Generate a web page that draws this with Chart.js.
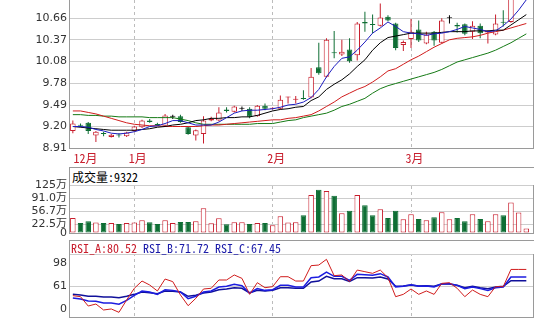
<!DOCTYPE html>
<html>
<head>
<meta charset="utf-8">
<script src="https://cdn.jsdelivr.net/npm/chart.js@4.4.1/dist/chart.umd.min.js"></script>
<style>
  html, body { margin: 0; padding: 0; background: #fff; }
  #wrap { position: relative; width: 545px; height: 330px; overflow: hidden; }
  #wrap canvas { position: absolute; left: 0; }
  .head { position: absolute; left: 70px; width: 463px; background: #fff; white-space: nowrap;
          font-family: 'Noto Sans Mono CJK SC', 'DejaVu Sans Mono', monospace; font-size: 12px; }
</style>
</head>
<body>
<div id="wrap">
  <canvas id="kline" width="545" height="166" style="top:0"></canvas>
  <canvas id="volume" width="545" height="72" style="top:166px"></canvas>
  <canvas id="rsi" width="545" height="92" style="top:238px"></canvas>
  <div class="head" style="top:168px;height:17px;line-height:17px;padding-left:2px;color:#000">成交量:9322</div>
  <div class="head" style="top:241px;height:13px;line-height:13px;padding-left:1px">
    <span style="color:#c81e2d">RSI_A:80.52</span> <span style="color:#1a1aa8">RSI_B:71.72</span> <span style="color:#1a1aa8">RSI_C:67.45</span>
  </div>
</div>
<script>
// daily candles, one entry per trading day (Dec -> Mar)
const opens  = [9.14, 9.22, 9.25, 9.08, 9.11, 9.06, 9.09, 9.07, 9.14, 9.19,
                9.28, 9.23, 9.21, 9.33, 9.34, 9.19, 9.08, 9.10, 9.28, 9.28,
                9.43, 9.40, 9.44, 9.44, 9.34, 9.48, 9.44, 9.44, 9.59, 9.56,
                9.58, 9.59, 10.00, 9.87, 10.20, 10.17, 10.24, 10.16, 10.61, 10.58,
                10.56, 10.68, 10.59, 10.30, 10.38, 10.51, 10.32, 10.48, 10.33, 10.66,
                10.57, 10.58, 10.48, 10.56, 10.47, 10.44, 10.61, 10.61, 10.97, 10.99];
const highs  = [9.28, 9.24, 9.26, 9.14, 9.13, 9.10, 9.11, 9.13, 9.21, 9.29,
                9.30, 9.25, 9.37, 9.36, 9.36, 9.20, 9.16, 9.34, 9.33, 9.46,
                9.46, 9.48, 9.47, 9.46, 9.49, 9.51, 9.46, 9.62, 9.60, 9.61,
                9.69, 9.99, 10.33, 10.39, 10.49, 10.37, 10.39, 10.61, 10.75, 10.71,
                10.86, 10.70, 10.60, 10.36, 10.65, 10.63, 10.48, 10.49, 10.66, 10.70,
                10.60, 10.59, 10.62, 10.59, 10.50, 10.71, 10.77, 11.00, 11.05, 11.02];
const lows   = [9.11, 9.19, 9.10, 8.99, 9.07, 9.05, 9.05, 9.06, 9.13, 9.18,
                9.25, 9.21, 9.20, 9.30, 9.25, 9.09, 9.01, 8.97, 9.27, 9.27,
                9.39, 9.39, 9.41, 9.31, 9.33, 9.42, 9.43, 9.43, 9.51, 9.51,
                9.56, 9.58, 9.90, 9.86, 10.12, 10.15, 10.06, 10.09, 10.48, 10.46,
                10.55, 10.62, 10.23, 10.22, 10.26, 10.34, 10.31, 10.29, 10.32, 10.59,
                10.47, 10.43, 10.38, 10.39, 10.32, 10.43, 10.55, 10.60, 10.95, 10.97];
const closes = [9.24, 9.21, 9.14, 9.13, 9.10, 9.09, 9.08, 9.12, 9.20, 9.28,
                9.26, 9.22, 9.35, 9.33, 9.26, 9.10, 9.15, 9.28, 9.30, 9.39,
                9.41, 9.47, 9.44, 9.33, 9.48, 9.44, 9.45, 9.56, 9.60, 9.57,
                9.57, 9.87, 9.92, 10.37, 10.19, 10.21, 10.08, 10.59, 10.59, 10.57,
                10.67, 10.63, 10.26, 10.34, 10.48, 10.36, 10.44, 10.36, 10.63, 10.66,
                10.55, 10.45, 10.56, 10.46, 10.49, 10.59, 10.60, 10.98, 11.00, 11.00];

// moving averages as drawn on the chart
const ma5  = [9.20, 9.20, 9.19, 9.16, 9.14, 9.11, 9.10, 9.11, 9.13, 9.16,
              9.20, 9.21, 9.24, 9.28, 9.28, 9.25, 9.22, 9.22, 9.22, 9.26,
              9.32, 9.38, 9.41, 9.42, 9.42, 9.43, 9.44, 9.46, 9.49, 9.50,
              9.53, 9.59, 9.70, 9.87, 10.01, 10.12, 10.14, 10.23, 10.34, 10.46,
              10.53, 10.61, 10.55, 10.48, 10.46, 10.45, 10.43, 10.45, 10.46, 10.48,
              10.51, 10.55, 10.53, 10.51, 10.48, 10.49, 10.56, 10.65, 10.77, 10.91];
const ma10 = [9.20, 9.19, 9.18, 9.17, 9.16, 9.15, 9.15, 9.15, 9.15, 9.16,
              9.17, 9.19, 9.20, 9.22, 9.23, 9.25, 9.28, 9.29, 9.31, 9.31,
              9.32, 9.32, 9.33, 9.33, 9.35, 9.38, 9.41, 9.43, 9.44, 9.46,
              9.47, 9.55, 9.60, 9.70, 9.77, 9.83, 9.91, 10.01, 10.10, 10.23,
              10.33, 10.40, 10.42, 10.44, 10.46, 10.46, 10.46, 10.46, 10.47, 10.48,
              10.48, 10.48, 10.49, 10.49, 10.49, 10.50, 10.50, 10.57, 10.64, 10.71];
const ma20 = [9.41, 9.41, 9.39, 9.37, 9.34, 9.31, 9.28, 9.25, 9.23, 9.22,
              9.21, 9.21, 9.20, 9.20, 9.20, 9.20, 9.20, 9.21, 9.22, 9.22,
              9.23, 9.24, 9.25, 9.26, 9.27, 9.28, 9.29, 9.29, 9.31, 9.32,
              9.34, 9.36, 9.41, 9.47, 9.53, 9.60, 9.65, 9.70, 9.74, 9.80,
              9.87, 9.95, 9.98, 10.04, 10.10, 10.15, 10.21, 10.27, 10.32, 10.37,
              10.39, 10.40, 10.41, 10.43, 10.46, 10.48, 10.50, 10.53, 10.56, 10.59];
const ma30 = [9.36, 9.36, 9.35, 9.35, 9.34, 9.34, 9.33, 9.33, 9.33, 9.33,
              9.32, 9.32, 9.32, 9.32, 9.30, 9.28, 9.25, 9.23, 9.23, 9.23,
              9.23, 9.23, 9.23, 9.23, 9.24, 9.24, 9.24, 9.26, 9.28, 9.29,
              9.32, 9.34, 9.36, 9.38, 9.42, 9.47, 9.50, 9.54, 9.58, 9.65,
              9.71, 9.75, 9.78, 9.81, 9.84, 9.87, 9.90, 9.93, 9.97, 10.02,
              10.07, 10.10, 10.13, 10.16, 10.19, 10.23, 10.28, 10.33, 10.39, 10.45];

// volume, in 万 shares
const volume = [39.3, 26.2, 30.6, 27.1, 26.2, 26.2, 23.6, 26.2, 27.1, 33.2,
                28.0, 23.6, 33.2, 26.2, 28.8, 28.8, 30.6, 64.7, 25.3, 38.5,
                22.7, 28.0, 28.0, 23.6, 26.2, 26.2, 20.1, 43.7, 27.1, 28.0,
                46.3, 98.8, 112.8, 109.3, 97.0, 51.6, 57.7, 98.8, 72.6, 46.3,
                62.1, 39.3, 57.7, 35.8, 49.0, 36.7, 33.2, 41.1, 54.2, 35.8,
                39.3, 30.6, 49.0, 36.7, 30.6, 49.0, 46.3, 79.5, 53.3, 11.4];

// RSI lines
const rsiA = [50.2, 49.0, 38.2, 40.5, 33.6, 34.8, 30.9, 45.2, 58.7, 67.1,
              62.5, 55.6, 69.4, 66.4, 51.0, 38.6, 47.1, 57.9, 58.7, 68.3,
              68.3, 74.1, 70.2, 51.7, 65.2, 59.4, 60.6, 72.1, 72.1, 67.1,
              67.1, 84.9, 85.6, 92.2, 73.3, 74.1, 66.4, 79.8, 77.9, 76.0,
              79.8, 71.0, 49.0, 51.7, 57.9, 51.7, 55.6, 51.7, 64.4, 65.2,
              58.7, 49.0, 56.7, 51.7, 49.0, 60.6, 60.6, 80.52, 80.52, 80.52];
const rsiB = [47.5, 46.3, 44.0, 43.6, 41.7, 41.7, 40.2, 44.8, 50.6, 55.6,
              54.4, 51.7, 57.1, 56.3, 54.4, 46.7, 49.4, 54.4, 55.6, 60.2,
              61.0, 63.3, 61.7, 53.3, 58.3, 56.3, 57.1, 62.1, 62.1, 60.2,
              60.2, 71.0, 71.8, 77.5, 72.5, 72.5, 67.9, 74.8, 74.5, 73.7,
              75.6, 71.8, 60.2, 61.0, 62.9, 61.0, 61.4, 60.2, 64.0, 64.0,
              62.1, 58.3, 60.2, 58.3, 56.3, 59.4, 60.2, 71.72, 71.72, 71.72];
const rsiC = [51.7, 50.9, 49.4, 49.4, 48.6, 48.6, 47.9, 49.4, 51.7, 54.4,
              53.6, 52.5, 55.6, 55.2, 54.4, 49.4, 50.6, 53.3, 54.4, 57.1,
              57.9, 59.4, 58.7, 53.3, 56.3, 55.6, 56.3, 59.4, 59.4, 58.7,
              58.7, 66.0, 67.1, 72.5, 69.8, 69.8, 66.7, 71.0, 71.0, 70.6,
              71.8, 69.4, 61.0, 61.4, 62.5, 61.4, 61.7, 61.0, 63.7, 63.7,
              62.1, 59.4, 61.0, 59.4, 58.3, 60.2, 61.0, 67.45, 67.45, 67.45];

// axis labels
const monthNames = ['12月', '1月', '2月', '3月'];
const monthStart = [0, 8, 26, 44];
const priceTicks = [8.91, 9.20, 9.49, 9.78, 10.08, 10.37, 10.66];
const volTicks = [0, 22.5, 56.7, 91.0, 125];
const volTickLabels = ['0', '22.5万', '56.7万', '91.0万', '125万'];
const rsiGrid = [98, 61];
const rsiTickLabels = ['98', '61', '0'];
// the source software pins its top/bottom RSI labels inside the panel
const rsiLabelAt = [87.9, 61, 35.1];

const RED = '#c81e2d', GREEN = '#0e6e34', GRID = '#cdcdcd', FRAME = '#9a9a9a', DASH = '#bcbcbc';
const TICK_FONT = { family: "'DejaVu Sans', 'Noto Sans CJK SC', sans-serif", size: 11 };

const candleColor = closes.map((c, i) => c > opens[i] ? RED : (c < opens[i] ? GREEN : '#000'));
const bodyFill = closes.map((c, i) => c > opens[i] ? '#fff' : (c < opens[i] ? GREEN : '#000'));
const volColor = closes.map((c, i) => c >= opens[i] ? RED : GREEN);
const volFill = closes.map((c, i) => c >= opens[i] ? '#fff' : GREEN);

const pts = arr => arr.map((v, i) => ({ x: i, y: v }));

// frame round each panel, drawn just outside the plot area
const framePlugin = {
    id: 'frame',
    afterDraw(chart) {
        const { ctx, chartArea: a } = chart;
        ctx.save();
        ctx.strokeStyle = FRAME;
        ctx.lineWidth = 1;
        ctx.strokeRect(a.left - 0.5, a.top - 0.5, a.right - a.left + 1, a.bottom - a.top + 1);
        ctx.restore();
    }
};

// shared day axis with dashed month lines
function dayAxis(height, showLabels) {
    return {
        type: 'linear',
        min: -0.37,
        max: 59.87,
        offset: false,
        afterBuildTicks: s => { s.ticks = monthStart.map(v => ({ value: Math.max(v, 1.2) })); },
        afterFit: s => { s.height = height; s.paddingLeft = 0; s.paddingRight = 0; },
        grid: { color: c => c.index === 0 ? 'rgba(0,0,0,0)' : DASH, drawTicks: false, offset: false },
        border: { display: false, dash: [3, 3] },
        ticks: {
            display: showLabels,
            autoSkip: false,
            maxRotation: 0,
            padding: 3,
            labelOffset: 3.5,
            color: RED,
            font: { family: "'Noto Sans Mono CJK SC', 'DejaVu Sans', sans-serif", size: 12 },
            callback: (v, i) => monthNames[i]
        }
    };
}

function baseOptions(padTop, scales) {
    return {
        responsive: false,
        animation: false,
        events: [],
        layout: { padding: { left: 0, right: 12, top: padTop, bottom: 0 } },
        plugins: { legend: { display: false }, tooltip: { enabled: false } },
        scales: scales
    };
}

const line = (data, color, width) => ({
    type: 'line', data: pts(data), borderColor: color, borderWidth: width,
    pointRadius: 0, fill: false, order: 0
});

// price panel
new Chart(document.getElementById('kline'), {
    type: 'bar',
    data: {
        datasets: [
            line(ma5, '#1c1cc0', 1),
            line(ma10, '#000000', 1),
            line(ma20, '#d01c1c', 1),
            line(ma30, '#157a15', 1),
            {
                type: 'bar', order: 1,
                data: closes.map((c, i) => ({ x: i, y: [opens[i], c] })),
                backgroundColor: bodyFill, borderColor: candleColor, borderWidth: 1,
                borderSkipped: false, grouped: false, maxBarThickness: 6, minBarLength: 1
            },
            {
                type: 'bar', order: 2,
                data: highs.map((h, i) => ({ x: i, y: [lows[i], h] })),
                backgroundColor: candleColor, borderWidth: 0,
                grouped: false, maxBarThickness: 1
            }
        ]
    },
    options: baseOptions(0, {
        x: dayAxis(18, true),
        y: {
            min: 8.91,
            max: 10.907,
            afterBuildTicks: s => { s.ticks = priceTicks.map(v => ({ value: v })); },
            afterFit: s => { s.width = 70; s.paddingTop = 0; s.paddingBottom = 0; },
            grid: { color: GRID, drawTicks: false },
            border: { display: false },
            ticks: { autoSkip: false, padding: 3, color: '#333', font: TICK_FONT, callback: v => v.toFixed(2) }
        }
    }),
    plugins: [framePlugin]
});

// volume panel
new Chart(document.getElementById('volume'), {
    type: 'bar',
    data: {
        datasets: [{
            data: pts(volume),
            backgroundColor: volFill, borderColor: volColor, borderWidth: 1,
            borderSkipped: false, grouped: false, maxBarThickness: 6
        }]
    },
    options: baseOptions(2, {
        x: dayAxis(5, false),
        y: {
            min: 0,
            max: 169.3,
            afterBuildTicks: s => { s.ticks = volTicks.map(v => ({ value: v })); },
            afterFit: s => { s.width = 70; s.paddingTop = 0; s.paddingBottom = 0; },
            grid: { color: GRID, drawTicks: false },
            border: { display: false },
            ticks: { autoSkip: false, padding: 3, color: '#333', font: TICK_FONT, callback: (v, i) => volTickLabels[i] }
        }
    }),
    plugins: [framePlugin]
});

// RSI panel
new Chart(document.getElementById('rsi'), {
    type: 'line',
    data: {
        datasets: [
            line(rsiA, '#d01c1c', 1),
            line(rsiB, '#1c1ce0', 1.5),
            line(rsiC, '#10109a', 1.5)
        ]
    },
    options: baseOptions(3, {
        x: dayAxis(13, false),
        y: {
            min: 25.5,
            max: 113.4,
            afterBuildTicks: s => { s.ticks = [rsiGrid[0]].concat(rsiLabelAt).map(v => ({ value: v })); },
            afterFit: s => { s.width = 70; s.paddingTop = 0; s.paddingBottom = 0; },
            grid: { color: c => (c.tick && rsiGrid.includes(c.tick.value)) ? GRID : 'rgba(0,0,0,0)', drawTicks: false },
            border: { display: false },
            ticks: { autoSkip: false, padding: 3, color: '#333', font: TICK_FONT, callback: (v, i) => i === 0 ? '' : rsiTickLabels[i - 1] }
        }
    }),
    plugins: [framePlugin]
});
</script>
</body>
</html>
